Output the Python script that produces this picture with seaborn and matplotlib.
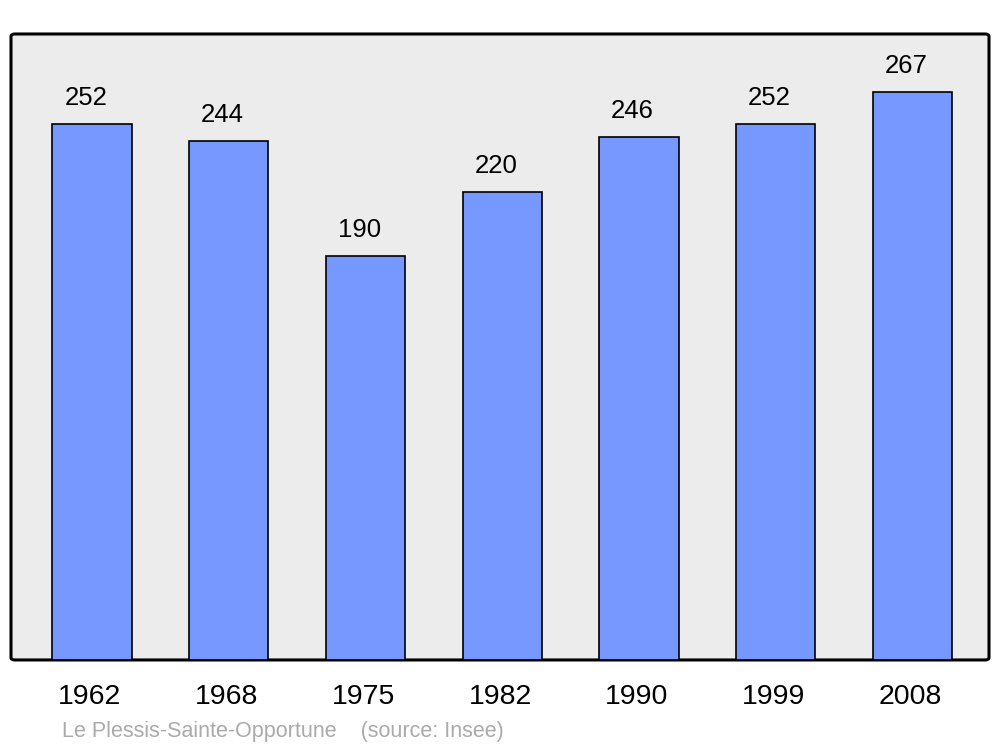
"""Population bar chart, Le Plessis-Sainte-Opportune."""

import pandas as pd
import seaborn as sns
import matplotlib.pyplot as plt
from matplotlib.patches import FancyBboxPatch
from matplotlib.transforms import ScaledTranslation

years = ["1962", "1968", "1975", "1982", "1990", "1999", "2008"]
population = [252, 244, 190, 220, 246, 252, 267]

df = pd.DataFrame({"year": years, "population": population})

sns.set_theme(style="white")
plt.rcParams["font.family"] = ["Liberation Sans", "DejaVu Sans"]

fig = plt.figure(figsize=(10, 7.47), dpi=100)
ax = fig.add_axes([0.011, 0.1165, 0.978, 0.838])

# Background frame with rounded corners
frame = FancyBboxPatch((0, 0), 1, 1, boxstyle="round,pad=0,rounding_size=0.004",
                       transform=ax.transAxes, facecolor="#ececec", edgecolor="black",
                       linewidth=2.2, zorder=0, clip_on=False)
ax.add_patch(frame)
ax.patch.set_visible(False)
for spine in ax.spines.values():
    spine.set_visible(False)

sns.barplot(data=df, x="year", y="population", color="#7799ff", saturation=1,
            width=0.58, edgecolor="black", linewidth=1.2, ax=ax, zorder=2)

# Value labels above bars (slightly left of bar centre, as in the original)
for i, v in enumerate(population):
    ax.annotate(str(v), (i, v), xytext=(-4.5, 13.5), textcoords="offset points",
                ha="center", va="baseline", fontsize=18.5, color="black")

ax.set_xlim(-0.592, 6.56)
ax.set_ylim(0, 294.3)
ax.set_yticks([])
ax.set_xlabel("")
ax.set_ylabel("")
ax.tick_params(axis="x", length=0, pad=17.5, labelsize=20.5, labelcolor="black")

# nudge year labels a touch to the left
shift = ScaledTranslation(-2 / 100, 0, fig.dpi_scale_trans)
for lbl in ax.get_xticklabels():
    lbl.set_transform(lbl.get_transform() + shift)

fig.text(0.062, 0.0134, "Le Plessis-Sainte-Opportune    (source: Insee)",
         fontsize=15.5, color="#aaaaaa", va="baseline", ha="left")

plt.savefig("out.png", dpi=100)
plt.close()
